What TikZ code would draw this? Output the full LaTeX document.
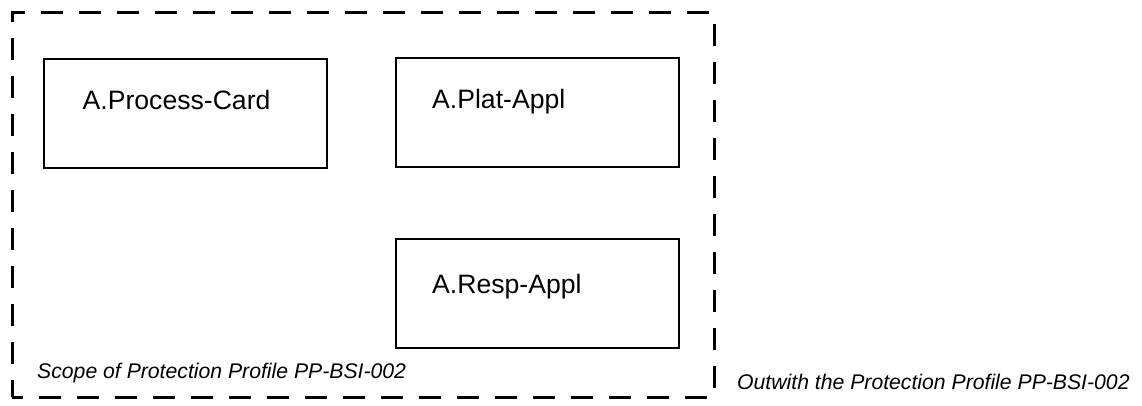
\documentclass[tikz,border=0pt]{standalone}
\usepackage{fontspec}
\setmainfont{Liberation Sans}
\usepackage{tikz}
\usetikzlibrary{calc}
\tikzset{appbox/.style={draw=black, line width=2pt, minimum width=283pt, inner sep=0pt}}
\tikzset{applabel/.style={anchor=base west, inner sep=0pt, font=\fontsize{26.6}{30}\selectfont}}
\tikzset{scopelabel/.style={anchor=base west, inner sep=0pt, font=\fontsize{21.2}{25}\selectfont\itshape}}

\begin{document}
\begin{tikzpicture} [x=1pt, y=-1pt]
    \useasboundingbox (0,0) rectangle (1142,406);
    \node[draw=black, line width=3pt, dash pattern=on 22pt off 16pt, dash phase=11pt,
          minimum width=702pt, minimum height=384pt, inner sep=0pt] (scope) at (363,205) {};
    \node[appbox, minimum height=109pt] (pcard) at (185,113.5) {};
    \node[appbox, minimum height=109pt] (plat) at (537.5,112.5) {};
    \node[appbox, minimum height=109pt] (resp) at (537.5,293.5) {};
    \node[applabel] (pcardtxt) at ($(pcard.north west)+(40,52)$) {A.Process-Card};
    \node[applabel] (plattxt) at ($(plat.north west)+(37,52)$) {A.Plat-Appl};
    \node[applabel] (resptxt) at ($(resp.north west)+(37,55)$) {A.Resp-Appl};
    \node[scopelabel] (inside) at (37,378) {Scope of Protection Profile PP-BSI-002};
    \node[scopelabel] (outside) at (737,389) {Outwith the Protection Profile PP-BSI-002};
    \end{tikzpicture}
\end{document}
